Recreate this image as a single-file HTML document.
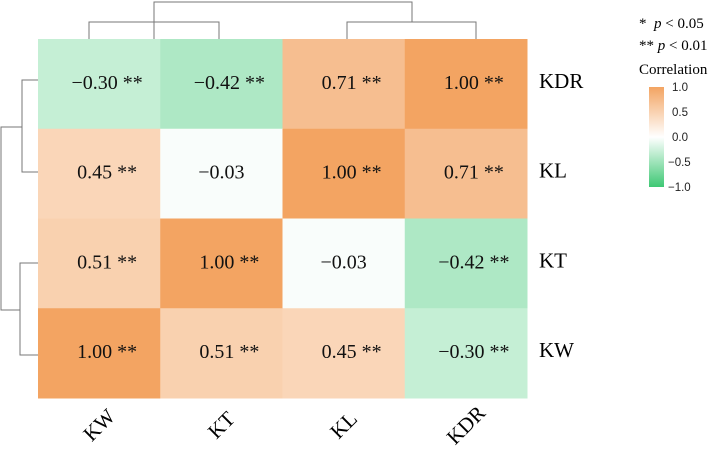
<!DOCTYPE html>
<html><head><meta charset="utf-8"><style>
body{margin:0;background:#fff;}
svg{display:block;font-family:"Liberation Serif",serif;}
</style></head><body>
<svg id="chart" width="708" height="450">
<g id="dendro" stroke="#777" stroke-width="1" fill="none">
<path d="M154,39 V2 H412 V22"/>
<path d="M89,39 V22 H219 V39"/>
<path d="M347,39 V22 H476 V39"/>
<path d="M22,127 H1 V310 H20"/>
<path d="M38,80 H22 V172 H38"/>
<path d="M38,263 H20 V355 H38"/>
</g>
<g id="cells"></g>
<g id="labels"></g>
<g id="legend">
<text x="639" y="28" font-size="15">*&#160; <tspan font-style="italic">p</tspan> &lt; 0.05</text>
<text x="639" y="50" font-size="15">** <tspan font-style="italic">p</tspan> &lt; 0.01</text>
<text x="639" y="74" font-size="15">Correlation</text>
<defs><linearGradient id="cg" x1="0" y1="0" x2="0" y2="1">
<stop offset="0" stop-color="#F3A462"/><stop offset="0.5" stop-color="#ffffff"/><stop offset="1" stop-color="#3EC874"/>
</linearGradient></defs>
<rect x="649" y="87" width="15" height="100" fill="url(#cg)"/>
<g id="cbticks" font-family="Liberation Sans, sans-serif" font-size="11.5" fill="#222"></g>
</g>
</svg>
<script>
const rowLabels=["KDR","KL","KT","KW"];
const colLabels=["KW","KT","KL","KDR"];
const values=[[-0.30,-0.42,0.71,1.00],[0.45,-0.03,1.00,0.71],[0.51,1.00,-0.03,-0.42],[1.00,0.51,0.45,-0.30]];
const stars=[["**","**","**","**"],["**","","**","**"],["**","**","","**"],["**","**","**","**"]];
const cbTicks=[1.0,0.5,0.0,-0.5,-1.0];
const X0=38,Y0=39,CW=122.25,CH=89.75;
const ns="http://www.w3.org/2000/svg";
function col(v){const w=[255,255,255],o=[243,164,98],g=[62,200,116];const t=Math.min(1,Math.abs(v));const c=v>=0?o:g;
return "rgb("+w.map((a,i)=>Math.round(a+(c[i]-a)*t)).join(",")+")";}
function xs(j){return X0+j*CW;} function ys(i){return Y0+i*CH;}
function fmt(v){return (v<0?"\u2212":"")+Math.abs(v).toFixed(2);}
const cells=document.getElementById("cells"),labels=document.getElementById("labels");
values.forEach((row,i)=>row.forEach((v,j)=>{
const r=document.createElementNS(ns,"rect");
r.setAttribute("x",xs(j));r.setAttribute("y",ys(i));r.setAttribute("width",CW+0.5);r.setAttribute("height",CH+0.5);r.setAttribute("fill",col(v));


cells.appendChild(r);
const t=document.createElementNS(ns,"text");
t.setAttribute("x",xs(j)+CW/2+(stars[i][j]?8:0));t.setAttribute("y",ys(i)+CH/2+5);t.setAttribute("text-anchor","middle");t.setAttribute("font-size","20");t.setAttribute("fill","#111");
t.textContent=fmt(v)+(stars[i][j]?" "+stars[i][j]:"");


cells.appendChild(t);
}));
rowLabels.forEach((l,i)=>{const t=document.createElementNS(ns,"text");
t.setAttribute("x",539);t.setAttribute("y",ys(i)+CH/2+4);t.setAttribute("font-size","21");t.textContent=l;


labels.appendChild(t);});
colLabels.forEach((l,j)=>{const t=document.createElementNS(ns,"text");const cx=xs(j)+CW/2,cy=432;
t.setAttribute("x",cx);t.setAttribute("y",cy);t.setAttribute("text-anchor","middle");t.setAttribute("font-size","21");
t.setAttribute("transform","rotate(-45 "+cx+" "+(cy-7)+")");t.textContent=l;


labels.appendChild(t);});
const cb=document.getElementById("cbticks");
cbTicks.forEach(v=>{const t=document.createElementNS(ns,"text");
t.setAttribute("x",v<0?668:672);t.setAttribute("y",87+(1-v)/2*100+4);t.textContent=(v<0?"\u2212":"")+Math.abs(v).toFixed(1);


cb.appendChild(t);});
</script>
</body></html>
